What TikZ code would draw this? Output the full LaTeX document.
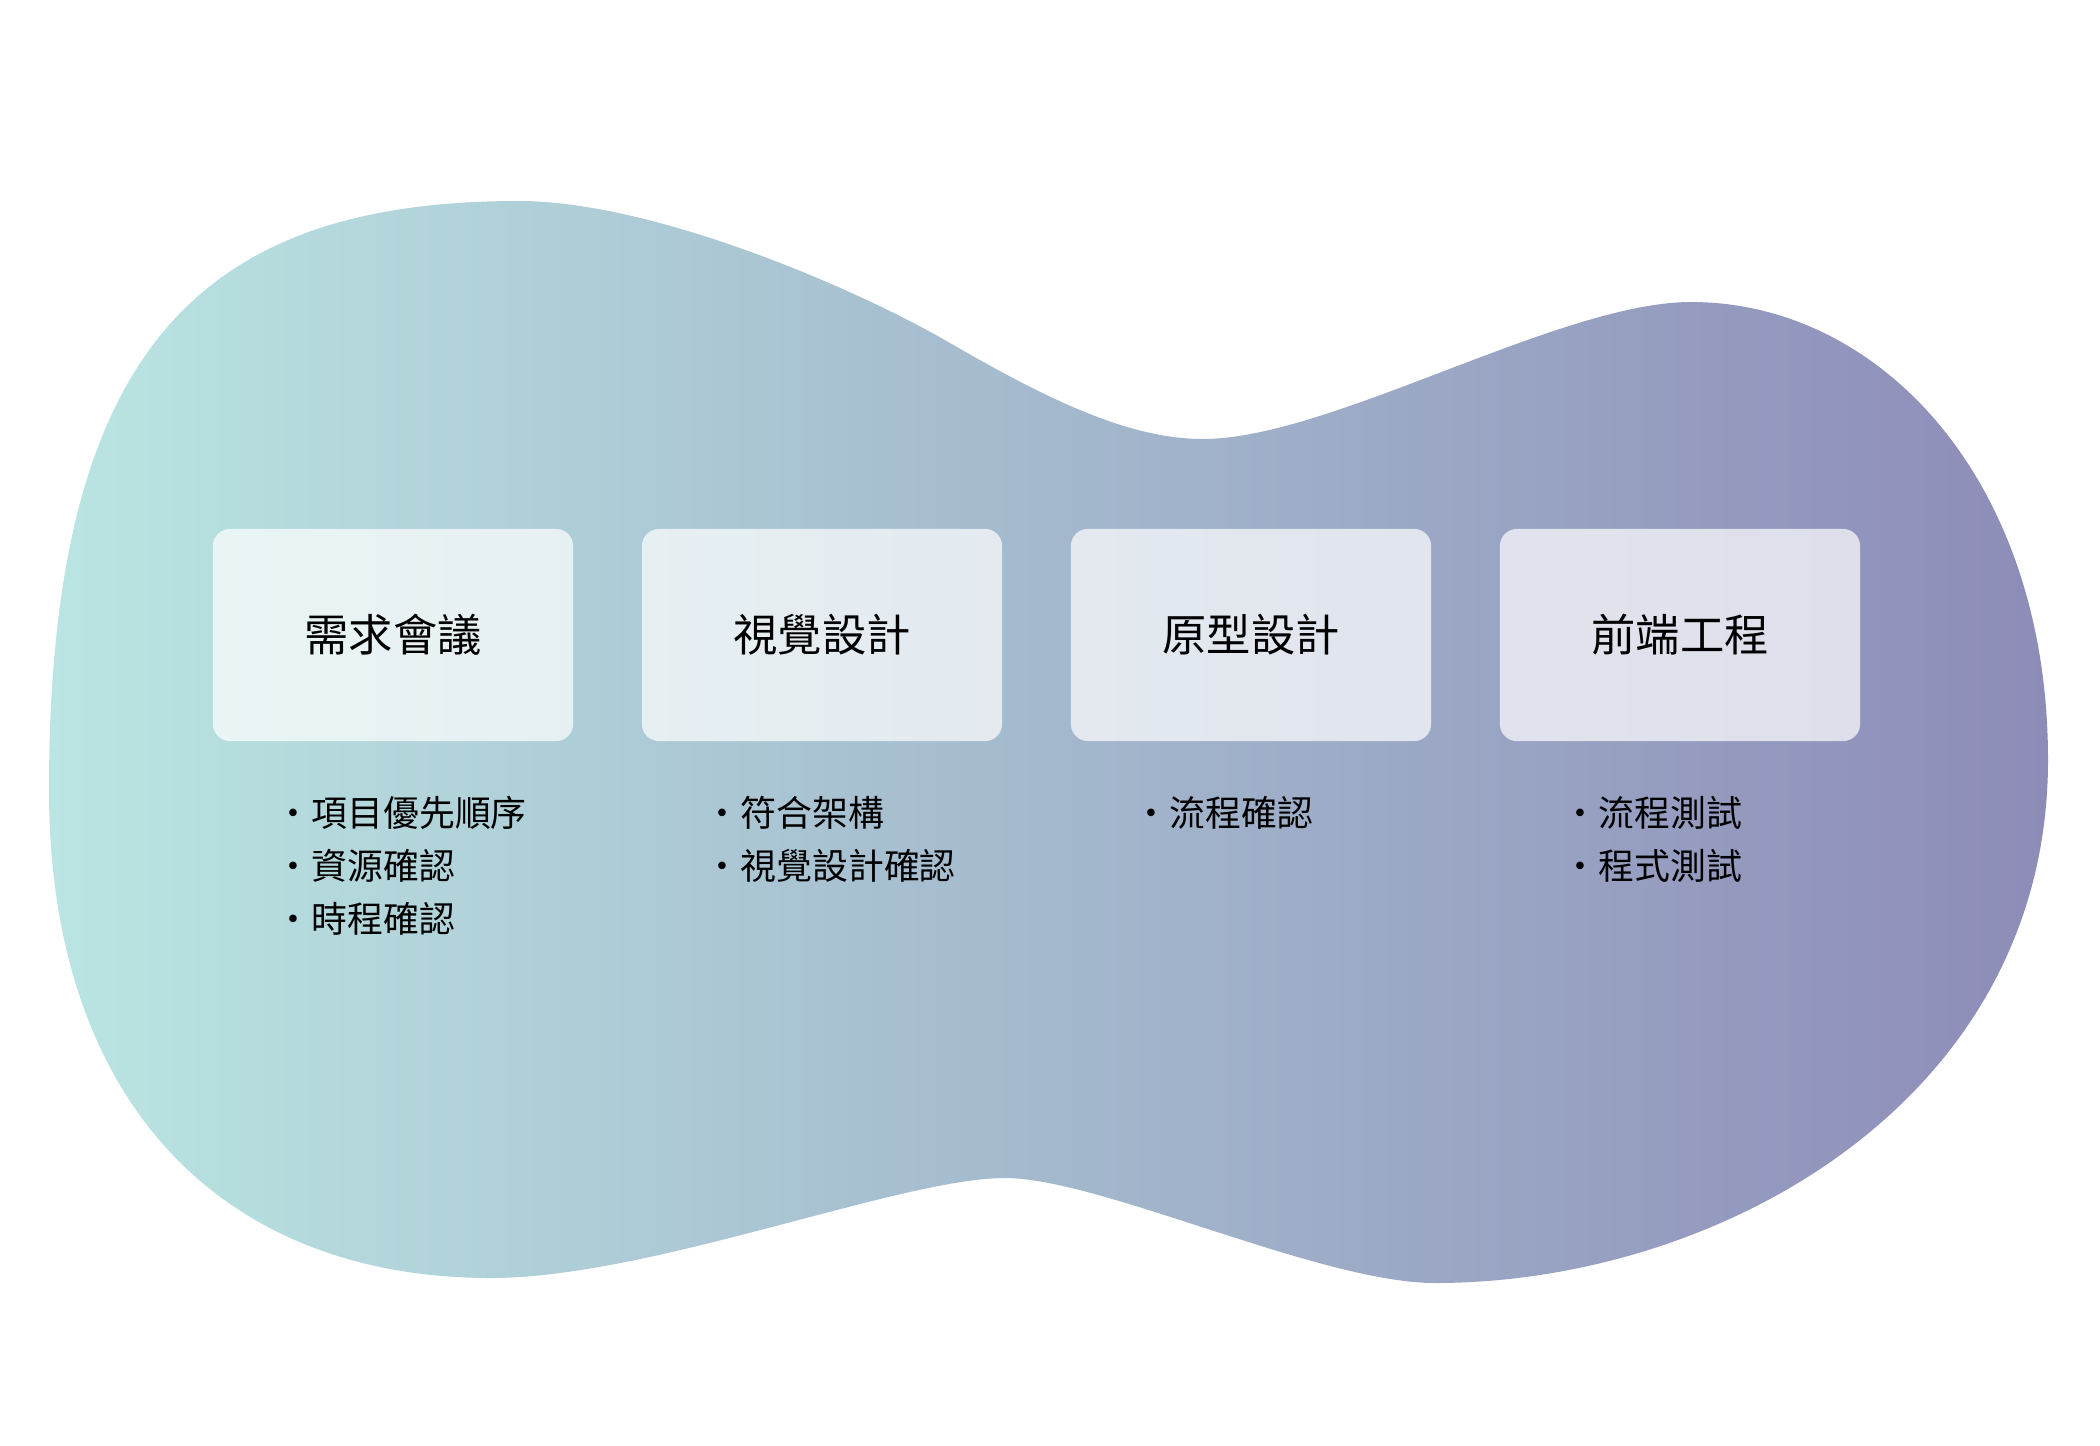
\documentclass[tikz,border=0pt]{standalone}
\usepackage{fontspec}
\newfontfamily\cjk{Noto Sans CJK TC}
\definecolor{blobL}{HTML}{BAE5E2}
\definecolor{blobR}{HTML}{8D8CB8}
\tikzset{
  stagebox/.style={minimum width=3.6cm, minimum height=2.12cm, rounded corners=0.17cm,
    fill=white, fill opacity=0.7, text opacity=1, inner sep=0pt,
    font=\cjk\fontsize{12.6}{15}\selectfont, text=black},
  itemtext/.style={anchor=west, inner sep=0pt, font=\cjk\fontsize{10.2}{12}\selectfont, text=black}
}
\begin{document}
\begin{tikzpicture}[x=0.01cm,y=-0.01cm]
\useasboundingbox[fill=white] (0,0) rectangle (2100,1445);
\shade[left color=blobL, right color=blobR]
  (49,790) .. controls (49,350) and (200,201) .. (519,201)
  .. controls (650,201) and (850,285) .. (950,343)
  .. controls (1050,401) and (1130,439) .. (1203,439)
  .. controls (1330,439) and (1560,302) .. (1691,302)
  .. controls (1880,302) and (2048,480) .. (2048,760)
  .. controls (2048,1100) and (1720,1283) .. (1435,1283)
  .. controls (1320,1283) and (1100,1178) .. (1005,1178)
  .. controls (900,1178) and (650,1278) .. (491,1278)
  .. controls (220,1278) and (49,1100) .. (49,790) -- cycle;

\node[stagebox] (b1) at (393,635) {需求會議};
\node[stagebox] (b2) at (822,635) {視覺設計};
\node[stagebox] (b3) at (1251,635) {原型設計};
\node[stagebox] (b4) at (1680,635) {前端工程};

\node[itemtext] (b1i1) at (275,813) {·項目優先順序};
\node[itemtext] (b1i2) at (275,866) {·資源確認};
\node[itemtext] (b1i3) at (275,919) {·時程確認};

\node[itemtext] (b2i1) at (704,813) {·符合架構};
\node[itemtext] (b2i2) at (704,866) {·視覺設計確認};

\node[itemtext] (b3i1) at (1133,813) {·流程確認};

\node[itemtext] (b4i1) at (1562,813) {·流程測試};
\node[itemtext] (b4i2) at (1562,866) {·程式測試};
\end{tikzpicture}
\end{document}
